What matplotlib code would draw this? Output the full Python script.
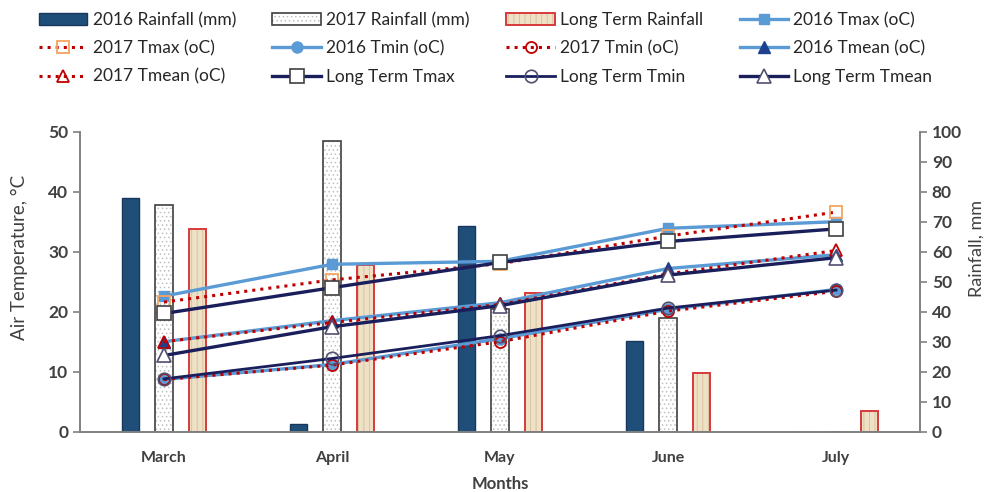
import numpy as np
import matplotlib
matplotlib.use("Agg")
import matplotlib.pyplot as plt

plt.rcParams['font.family'] = ['Lato', 'DejaVu Sans']
plt.rcParams['hatch.linewidth'] = 0.6

months = ['March', 'April', 'May', 'June', 'July']

# rainfall, mm
rain_2016 = [77.8, 2.5, 68.7, 30.3, 0]
rain_2017 = [75.6, 97.0, 40.8, 37.8, 0]
rain_lt = [67.6, 55.6, 46.3, 19.7, 7.0]

# air temperature, oC
tmax_2016 = [22.6, 27.9, 28.4, 33.9, 35.0]
tmax_2017 = [21.6, 25.3, 28.0, 32.6, 36.6]
tmax_lt = [19.7, 24.0, 28.2, 31.7, 33.8]
tmin_2016 = [8.7, 11.2, 15.5, 20.4, 23.7]
tmin_2017 = [8.7, 11.1, 15.0, 20.1, 23.4]
tmin_lt = [8.8, 12.2, 16.0, 20.6, 23.6]
tmean_2016 = [15.0, 18.5, 21.5, 27.2, 29.5]
tmean_2017 = [15.0, 18.2, 21.2, 26.3, 30.2]
tmean_lt = [12.7, 17.5, 21.0, 26.1, 29.0]

x = np.arange(len(months))
bw = 0.105
off = 0.2

txt = '#404040'
light = '#5b9bd5'
navy = '#1a1f5c'
red = '#c00000'

fig = plt.figure(figsize=(9.86, 4.92), dpi=100)
ax = fig.add_axes([0.0811, 0.1226, 0.852, 0.6097])
ax2 = ax.twinx()

# bars go on the rainfall axis, behind the lines
b1 = ax2.bar(x - off, rain_2016, bw, color='#1f4e79', edgecolor='#17375e', linewidth=1,
             label='2016 Rainfall (mm)')
b2f = ax2.bar(x, rain_2017, bw, color='white', edgecolor='#c0c0c0', hatch='....', linewidth=0)
b2 = ax2.bar(x, rain_2017, bw, color='none', edgecolor='#404040', linewidth=1.2,
             label='2017 Rainfall (mm)')
b3f = ax2.bar(x + off, rain_lt, bw, color='#efe1c6', edgecolor='#d4c09c', hatch='|||', linewidth=0)
b3 = ax2.bar(x + off, rain_lt, bw, color='none', edgecolor='#d83a3a', linewidth=1.4,
             label='Long Term Rainfall')

ax2.set_ylim(0, 100)
ax2.set_yticks(np.arange(0, 101, 10))

l_tmax16, = ax.plot(x, tmax_2016, '-', color=light, lw=2.4, marker='s', ms=7,
                    mfc=light, mec=light, label='2016 Tmax (oC)')
l_tmax17, = ax.plot(x, tmax_2017, ':', color=red, lw=2.2, marker='s', ms=8,
                    mfc='none', mec='#f4a460', mew=1.3, label='2017 Tmax (oC)')
l_tmaxlt, = ax.plot(x, tmax_lt, '-', color=navy, lw=2.4, marker='s', ms=10,
                    mfc='white', mec='#404040', mew=1.2, label='Long Term Tmax')
l_tmin16, = ax.plot(x, tmin_2016, '-', color=light, lw=2.4, marker='o', ms=8,
                    mfc=light, mec=light, label='2016 Tmin (oC)')
l_tmin17, = ax.plot(x, tmin_2017, ':', color=red, lw=2.2, marker='o', ms=8,
                    mfc='none', mec=red, mew=1.3, label='2017 Tmin (oC)')
l_tminlt, = ax.plot(x, tmin_lt, '-', color=navy, lw=2.0, marker='o', ms=9,
                    mfc='none', mec='#505070', mew=1.2, label='Long Term Tmin')
l_tmean16, = ax.plot(x, tmean_2016, '-', color=light, lw=2.4, marker='^', ms=8,
                     mfc='#1f3f8f', mec='#1f3f8f', label='2016 Tmean (oC)')
l_tmean17, = ax.plot(x, tmean_2017, ':', color=red, lw=2.2, marker='^', ms=8,
                     mfc='none', mec=red, mew=1.3, label='2017 Tmean (oC)')
l_tmeanlt, = ax.plot(x, tmean_lt, '-', color=navy, lw=2.4, marker='^', ms=10,
                     mfc='white', mec='#505070', mew=1.2, label='Long Term Tmean')

ax.set_zorder(ax2.get_zorder() + 1)
ax.patch.set_visible(False)

ax.set_xlim(-0.5, 4.5)
ax.set_ylim(0, 50)
ax.set_yticks(np.arange(0, 51, 10))
ax.set_xticks(x)
ax.set_xticklabels(months)

for a in (ax, ax2):
    a.spines['top'].set_visible(False)
    for s in ('left', 'right', 'bottom'):
        a.spines[s].set_color('#808080')
        a.spines[s].set_linewidth(1.2)
    a.tick_params(axis='y', colors='#808080', labelcolor=txt, labelsize=12.5, length=5, width=1.2)
    for lab in a.get_yticklabels():
        lab.set_fontweight('bold')
ax.tick_params(axis='x', length=0, pad=14, labelsize=11.5, labelcolor=txt)
for lab in ax.get_xticklabels():
    lab.set_fontweight('bold')

ax.set_ylabel('Air Temperature, \u00b0C', fontsize=13.5, color=txt)
ax.yaxis.set_label_coords(-0.062, 0.58)
ax2.set_ylabel('Rainfall, mm', fontsize=13, color=txt)
ax2.yaxis.set_label_coords(1.058, 0.61)
ax.set_xlabel('Months', fontsize=12, color=txt, fontweight='bold', labelpad=8)

# legend order is column-major, so it reads row by row like the grid above the plot
handles = [b1, l_tmax17, l_tmean17,
           (b2f, b2), l_tmin16, l_tmaxlt,
           (b3f, b3), l_tmin17, l_tminlt,
           l_tmax16, l_tmean16, l_tmeanlt]
labels = ['2016 Rainfall (mm)', '2017 Tmax (oC)', '2017 Tmean (oC)',
          '2017 Rainfall (mm)', '2016 Tmin (oC)', 'Long Term Tmax',
          'Long Term Rainfall', '2017 Tmin (oC)', 'Long Term Tmin',
          '2016 Tmax (oC)', '2016 Tmean (oC)', 'Long Term Tmean']
fig.legend(handles, labels, ncol=4, frameon=False,
           loc='upper left', bbox_to_anchor=(0.027, 1.0), fontsize=12.5,
           handlelength=2.8, handletextpad=0.3, columnspacing=2.1, labelspacing=0.7,
           borderaxespad=0.3, labelcolor='#262626')

fig.savefig('out.png', dpi=100)
